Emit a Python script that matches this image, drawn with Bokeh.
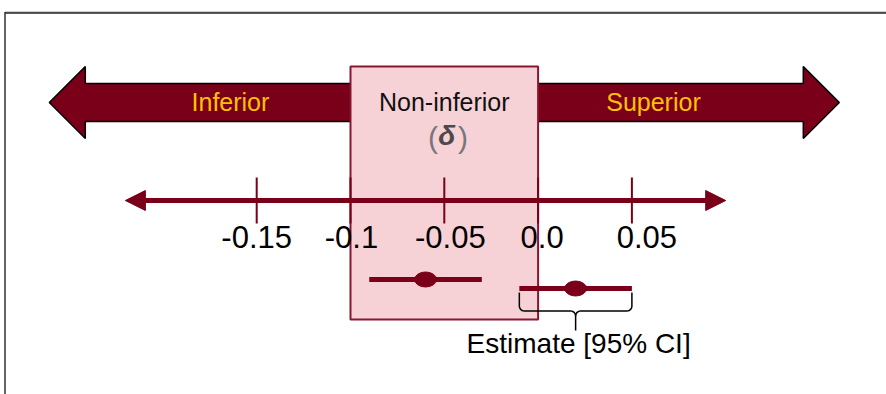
import numpy as np
from bokeh.plotting import figure
from bokeh.models import Range1d, ColumnDataSource
from bokeh.core.properties import value
from bokeh.embed import file_html
from bokeh.resources import INLINE

# ---------------- data ----------------
tick_values = [-0.15, -0.1, -0.05, 0.0, 0.05]
tick_labels = ["-0.15", "-0.1", "-0.05", "0.0", "0.05"]
margin_delta = -0.1          # non-inferiority margin (delta)
estimates = [-0.06, 0.02]
ci_lower = [-0.09, -0.01]
ci_upper = [-0.03, 0.05]
region_labels = ["Inferior", "Superior"]
box_label = "Non-inferior"
legend_label = "Estimate [95% CI]"
axis_min, axis_max = -0.22, 0.10

# ---------------- layout / style ----------------
W, H = 886, 394
PX_PER_UNIT = 1876.0
ZERO_PX = 537.6
FONT = value("Liberation Sans")
MAROON = "#7A0019"
PINK = "#F6D2D6"
BOX_LINE = "#8A1530"
YELLOW = "#FFC000"


def dx(px):
    return px / PX_PER_UNIT


x0 = -ZERO_PX / PX_PER_UNIT
x1 = (W - ZERO_PX) / PX_PER_UNIT

p = figure(width=W, height=H, output_backend="svg", toolbar_location=None,
           x_range=Range1d(x0, x1), y_range=Range1d(H, 0), min_border=0)
p.axis.visible = False
p.grid.visible = False
p.outline_line_color = None
p.background_fill_color = "white"
p.border_fill_color = "white"

# frame (top and left edges)
p.line(x=[x0 + dx(4.5), x1], y=[11.5, 11.5], line_color="#9a9a9a", line_width=1)
p.line(x=[x0 + dx(4.5), x1], y=[12.5, 12.5], line_color="#222222", line_width=1.5)
p.line(x=[x0 + dx(4.5), x0 + dx(4.5)], y=[11.5, H], line_color="#333333", line_width=1.5)

# big double arrows: Inferior (left) and Superior (right)
c = margin_delta / 2.0
tip = dx(395)
head = dx(359)
y_tip, y_ht, y_st, y_sb, y_hb = 102, 66, 83, 121, 138
left_xs = [c - tip, c - head, c - head, margin_delta, margin_delta, c - head, c - head]
right_xs = [c + tip, c + head, c + head, 0.0, 0.0, c + head, c + head]
arr_ys = [y_tip, y_ht, y_st, y_st, y_sb, y_sb, y_hb]
p.patches(xs=[left_xs, right_xs], ys=[arr_ys, arr_ys], fill_color=MAROON,
          line_color="black", line_width=1.5)

# non-inferiority box
p.quad(left=[margin_delta], right=[0.0], top=[66], bottom=[319],
       fill_color=PINK, line_color=BOX_LINE, line_width=2)

# region labels
p.text(x=[-0.164, 0.0615], y=[101, 101], text=region_labels, text_font=FONT,
       text_font_size="25px", text_color=YELLOW, text_align="center",
       text_baseline="middle")
p.text(x=[c], y=[101], text=[box_label], text_font=FONT, text_font_size="25px",
       text_color="#111111", text_align="center", text_baseline="middle")
p.text(x=[c + dx(-11.3), c + dx(18.7)], y=[137, 137], text=["(", ")"],
       text_font=FONT, text_font_size="30px", text_color="#777777",
       text_align="center", text_baseline="middle")
p.text(x=[c + dx(2.5)], y=[135], text=["\u03b4"], text_font=FONT,
       text_font_size="28px", text_font_style="bold italic",
       text_color="#4a4a4a", text_align="center", text_baseline="middle")

# number line with arrow heads
AY = 200
HL = dx(20)
p.segment(x0=[axis_min + HL * 0.8], x1=[axis_max - HL * 0.8], y0=[AY], y1=[AY],
          line_color=MAROON, line_width=5)
p.patches(xs=[[axis_min, axis_min + HL, axis_min + HL],
              [axis_max, axis_max - HL, axis_max - HL]],
          ys=[[AY, AY - 10, AY + 10], [AY, AY - 10, AY + 10]],
          fill_color=MAROON, line_color=MAROON, line_width=1)

# ticks
p.segment(x0=tick_values, x1=tick_values, y0=[177] * len(tick_values),
          y1=[223] * len(tick_values), line_color=MAROON, line_width=2)
label_dx = [0, 1, 6, 4, 15]
lab_src = ColumnDataSource(dict(x=tick_values, y=[236] * len(tick_values),
                                text=tick_labels, dx=label_dx))
p.text(x="x", y="y", text="text", x_offset="dx", source=lab_src, text_font=FONT,
       text_font_size="31px", text_color="black", text_align="center",
       text_baseline="middle")

# estimates with CIs
rows = [279, 288]
p.segment(x0=ci_lower, x1=ci_upper, y0=rows, y1=rows, line_color=MAROON,
          line_width=5)
p.ellipse(x=estimates, y=rows, width=22, height=15, width_units="screen",
          height_units="screen", fill_color=MAROON, line_color=MAROON)

# curly brace under second CI
lo, hi, mid = ci_lower[1], ci_upper[1], estimates[1]
yt, yh, ytip = 292, 310.5, 330
r_px = 5.0
rx = dx(r_px)
th = np.linspace(0, np.pi / 2, 8)
bx, by = [lo], [yt]
bx += list(lo + rx - rx * np.cos(th)); by += list(yh - r_px + r_px * np.sin(th))
bx += list(mid - rx + rx * np.sin(th)); by += list(yh + r_px - r_px * np.cos(th))
bx += [mid]; by += [ytip]
bx2, by2 = [mid], [yh + r_px]
bx2 += list(mid + rx - rx * np.sin(th[::-1])); by2 += list(yh + r_px - r_px * np.cos(th[::-1]))
bx2 += list(hi - rx + rx * np.cos(th[::-1])); by2 += list(yh - r_px + r_px * np.sin(th[::-1]))
bx2 += [hi]; by2 += [yt]
p.multi_line(xs=[bx, bx2], ys=[by, by2], line_color="black", line_width=1.5)

p.text(x=[mid + dx(3)], y=[343], text=[legend_label], text_font=FONT,
       text_font_size="28px", text_color="black", text_align="center",
       text_baseline="middle")

open("out.html", "w").write(file_html(p, INLINE))
